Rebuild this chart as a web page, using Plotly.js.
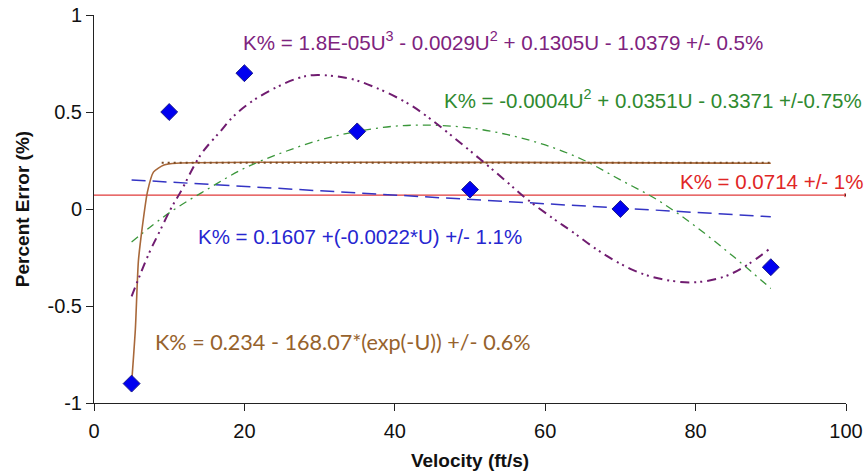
<!DOCTYPE html>
<html>
<head>
<meta charset="utf-8">
<script src="https://cdn.plot.ly/plotly-3.0.1.min.js"></script>
<style>
html,body{margin:0;padding:0;background:#fff;}
#chart{width:867px;height:472px;}
</style>
</head>
<body>
<div id="chart"></div>
<script>
// Measured data points
const velocity = [5, 10, 20, 35, 50, 70, 90];
const percentError = [-0.9, 0.5, 0.7, 0.4, 0.1, 0.0, -0.3];

// Cubic trend
const cubicU = [5, 7.3, 8.8, 10.2, 11.5, 14.2, 16.8, 18.6, 21.2, 24.4, 27.2, 29.2, 33.7, 37.2, 41.7, 44.7, 47.8, 51.4, 54.9, 57.6, 61.1, 63.7, 67.3, 71.7, 75.3, 79.7, 83.7, 86.8, 90];
const cubicK = [-0.45, -0.23, -0.11, 0, 0.087, 0.28, 0.4, 0.48, 0.56, 0.63, 0.675, 0.69, 0.675, 0.63, 0.545, 0.465, 0.37, 0.255, 0.14, 0.05, -0.05, -0.12, -0.22, -0.315, -0.36, -0.378, -0.35, -0.29, -0.2];

// Quadratic trend
const quadU = [5, 10, 15, 20, 25, 30, 35, 40, 45, 50, 55, 60, 65, 70, 75, 80, 85, 90];
const quadK = [-0.17, -0.02, 0.1, 0.21, 0.29, 0.355, 0.4, 0.427, 0.432, 0.418, 0.383, 0.33, 0.254, 0.15, 0.045, -0.09, -0.244, -0.41];

// Linear trend
const linU = [5, 90];
const linK = [0.15, -0.04];

// Constant mean
const meanU = [0, 100];
const meanK = [0.0714, 0.0714];

// Exponential trend
const expU = [5, 5.5, 5.9, 6.4, 7.1, 7.9, 9.3, 11, 90];
const expK = [-0.9, -0.62, -0.27, -0.1, 0.087, 0.19, 0.227, 0.236, 0.236];
const expDotU = [9, 90];
const expDotK = [0.238, 0.238];

// Tick labels
const xTickVals = [0, 20, 40, 60, 80, 100];
const xTickText = ['0', '20', '40', '60', '80', '100'];
const yTickVals = [-1, -0.5, 0, 0.5, 1];
const yTickText = ['-1', '-0.5', '0', '0.5', '1'];

// Equation labels
const eqCubic = 'K% = 1.8E-05U<sup>3</sup> - 0.0029U<sup>2</sup> + 0.1305U - 1.0379 +/- 0.5%';
const eqQuad = 'K% = -0.0004U<sup>2</sup> + 0.0351U - 0.3371 +/-0.75%';
const eqMean = 'K% = 0.0714 +/- 1%';
const eqLin = 'K% = 0.1607 +(-0.0022*U) +/- 1.1%';
const eqExp = 'K% = 0.234 - 168.07*(exp(-U)) +/- 0.6%';

const traces = [
  {x: meanU, y: meanK, mode: 'lines+markers', line: {color: '#e03a3a', width: 1.2},
   marker: {size: [0, 3], color: '#000', symbol: 'square'}, hoverinfo: 'skip'},
  {x: linU, y: linK, mode: 'lines', line: {color: '#3434c4', width: 1.5, dash: '14px,7px'}},
  {x: quadU, y: quadK, mode: 'lines', line: {color: '#3a963a', width: 1.3, dash: '8px,5px,2px,5px', shape: 'spline'}},
  {x: expU, y: expK, mode: 'lines', line: {color: '#a8683a', width: 1.6, shape: 'spline', smoothing: 0.6}},
  {x: expDotU, y: expDotK, mode: 'lines', line: {color: '#7a4a22', width: 2, dash: '2px,4px'}},
  {x: cubicU, y: cubicK, mode: 'lines', line: {color: '#701c70', width: 2, dash: '9px,5px,2px,4px,2px,5px', shape: 'spline', smoothing: 1}},
  {x: velocity, y: percentError, mode: 'markers',
   marker: {symbol: 'diamond', size: 13, color: '#0000f0', line: {color: '#1a1a8a', width: 1}}}
];

const annFont = '"Liberation Sans", Arial, sans-serif';
const layout = {
  width: 867, height: 472,
  margin: {l: 94, r: 21, t: 15, b: 69},
  paper_bgcolor: '#fff', plot_bgcolor: '#fff',
  showlegend: false,
  font: {family: annFont, color: '#111'},
  xaxis: {
    range: [0, 100], tickmode: 'array', tickvals: xTickVals, ticktext: xTickText,
    showgrid: false, zeroline: false,
    showline: true, linecolor: '#222', linewidth: 1,
    ticks: 'outside', ticklen: 7, tickcolor: '#222', ticklabelstandoff: 3,
    tickfont: {size: 20, color: '#111'},
    title: {text: '<b>Velocity (ft/s)</b>', font: {size: 19, color: '#111'}, standoff: 12}
  },
  yaxis: {
    range: [-1, 1], tickmode: 'array', tickvals: yTickVals, ticktext: yTickText,
    showgrid: false, zeroline: false,
    showline: true, linecolor: '#222', linewidth: 1,
    ticks: 'outside', ticklen: 7, tickcolor: '#222',
    tickfont: {size: 20, color: '#111'},
    title: {text: '<b>Percent Error (%)</b>', font: {size: 19, color: '#111'}, standoff: 12}
  },
  annotations: [
    {x: 19.5, y: 0.866, xref: 'x', yref: 'y', xanchor: 'left', yanchor: 'middle', showarrow: false,
     text: eqCubic, font: {family: annFont, size: 20.6, color: '#7e237e'}},
    {x: 46.3, y: 0.567, xref: 'x', yref: 'y', xanchor: 'left', yanchor: 'middle', showarrow: false,
     text: eqQuad, font: {family: annFont, size: 20.5, color: '#2f8a2f'}},
    {x: 77.7, y: 0.144, xref: 'x', yref: 'y', xanchor: 'left', yanchor: 'middle', showarrow: false,
     text: eqMean, font: {family: annFont, size: 20.5, color: '#e02626'}},
    {x: 13.6, y: -0.144, xref: 'x', yref: 'y', xanchor: 'left', yanchor: 'middle', showarrow: false,
     text: eqLin, font: {family: annFont, size: 20.5, color: '#2626d0'}},
    {x: 7.8, y: -0.686, xref: 'x', yref: 'y', xanchor: 'left', yanchor: 'middle', showarrow: false,
     text: eqExp, font: {family: 'Lato, "Liberation Sans", sans-serif', size: 21.6, color: '#96622c'}}
  ]
};

Plotly.newPlot('chart', traces, layout, {displayModeBar: false, staticPlot: true});
</script>
</body>
</html>
